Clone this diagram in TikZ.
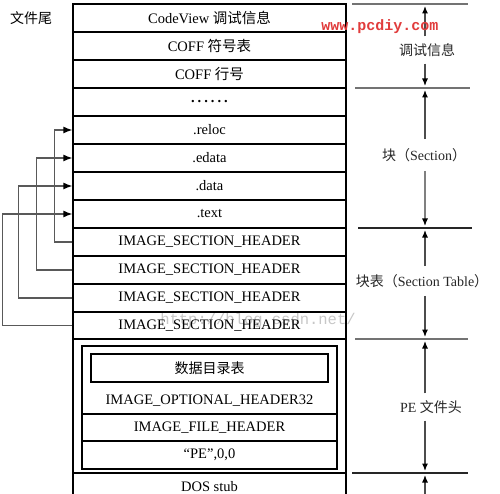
\documentclass[tikz,border=0pt]{standalone}
\usepackage{fontspec}
\setmainfont{Liberation Serif}
\newfontfamily\cjk{Noto Sans CJK SC}
\newfontfamily\wmfont{Liberation Mono}
\usetikzlibrary{arrows.meta}
\definecolor{wmred}{RGB}{225,60,60}
\begin{document}
\begin{tikzpicture}[x=1pt,y=-1pt,
  cell/.style={draw, line width=1.2pt, minimum width=273pt, minimum height=28pt, inner sep=0pt,
    font=\fontsize{14.5}{16}\selectfont},
  icell/.style={draw, line width=1.3pt, minimum width=255pt, inner sep=0pt},
  txt/.style={inner sep=0pt, font=\fontsize{14.5}{16}\selectfont},
  rlab/.style={inner sep=7pt, text=black!85, font=\fontsize{14}{16}\selectfont},
  conn/.style={draw=black!65, line width=1.4pt, -{Latex[length=9pt,width=7pt,color=black]}},
  varrow/.style={draw=black!70, line width=1.2pt, -{Latex[length=7.5pt,width=6pt,color=black]}},
  sepd/.style={draw=black!55, line width=1.1pt},
  seps/.style={draw=black!85, line width=1.2pt}]
\useasboundingbox (0,0) rectangle (500,494);
\clip (0,0) rectangle (500,494);
\fill[white] (0,0) rectangle (500,494);

% main column
\node[cell] (r1) at (209.5,18) {CodeView {\cjk 调试信息}};
\node[cell] (r2) at (209.5,46) {COFF {\cjk 符号表}};
\node[cell] (r3) at (209.5,74) {COFF {\cjk 行号}};
\node[cell] (r4) at (209.5,102) {\textbf{.\hspace{3pt}.\hspace{3pt}.\hspace{3pt}.\hspace{3pt}.\hspace{3pt}.}};
\node[cell] (r5) at (209.5,130) {.reloc};
\node[cell] (r6) at (209.5,158) {.edata};
\node[cell] (r7) at (209.5,186) {.data};
\node[cell] (r8) at (209.5,214) {.text};
\node[cell] (r9) at (209.5,242) {IMAGE\_SECTION\_HEADER};
\node[cell] (r10) at (209.5,270) {IMAGE\_SECTION\_HEADER};
\node[cell] (r11) at (209.5,298) {IMAGE\_SECTION\_HEADER};
\node[cell, minimum height=27pt] (r12) at (209.5,325.5) {IMAGE\_SECTION\_HEADER};
\node[cell, minimum height=134pt] (pe) at (209.5,406) {};
\node[cell] (dos) at (209.5,487) {DOS stub};

% PE header interior
\node[icell, minimum height=68pt] (opt) at (209.5,380) {};
\node[icell, minimum height=27pt, font=\fontsize{14.5}{16}\selectfont] (fh) at (209.5,427.5) {IMAGE\_FILE\_HEADER};
\node[icell, minimum height=28pt, font=\fontsize{14.5}{16}\selectfont] (sig) at (209.5,455) {“PE”,0,0};
\node[draw, line width=1.5pt, minimum width=237pt, minimum height=28pt, inner sep=0pt,
  font=\fontsize{14}{16}\selectfont] (dd) at (209.5,368) {\cjk 数据目录表};
\node[txt] (optt) at (209.5,401) {IMAGE\_OPTIONAL\_HEADER32};

% left label
\node[rlab, text=black] (tail) at (31,18) {\cjk 文件尾};

% section header pointers
\draw[conn] (r9.west) -- ++(-18,0) |- (r5.west);
\draw[conn] (r10.west) -- ++(-36,0) |- (r6.west);
\draw[conn] (r11.west) -- ++(-54,0) |- (r7.west);
\draw[conn] (r12.west) -- ++(-70,0) |- (r8.west);

% right separators
\draw[sepd] (352,4) -- (468,4);
\draw[sepd] (355,88) -- (470,88);
\draw[seps] (358,228) -- (472,228);
\draw[sepd] (355,339) -- (468,339);
\draw[seps] (352,473) -- (468,473);

\coordinate (a0) at (425,6);
\coordinate (a1) at (425,86);
\coordinate (a2) at (425,90);
\coordinate (a3) at (425,226);
\coordinate (a4) at (425,230);
\coordinate (a5) at (425,337);
\coordinate (a6) at (425,341);
\coordinate (a7) at (425,471);
\coordinate (a8) at (425,475);
\coordinate (a9) at (425,494);

\node[rlab] (l1) at (427,50) {\cjk 调试信息};
\node[rlab, inner sep=9pt] (l2) at (424,155) {{\cjk 块（}Section{\cjk ）}};
\node[rlab, inner sep=8pt] (l3) at (422,281) {{\cjk 块表（}Section Table{\cjk ）}};
\node[rlab] (l4) at (431,407) {PE {\cjk 文件头}};

\draw[varrow] (l1.north -| a0) -- (a0);
\draw[varrow] (l1.south -| a1) -- (a1);
\draw[varrow] (l2.north -| a2) -- (a2);
\draw[varrow, draw=black!50] (l2.south -| a3) -- (a3);
\draw[varrow] (l3.north -| a4) -- (a4);
\draw[varrow] (l3.south -| a5) -- (a5);
\draw[varrow] (l4.north -| a6) -- (a6);
\draw[varrow] (l4.south -| a7) -- (a7);
\draw[varrow] (a9) -- (a8);

% watermarks
\node[inner sep=0pt, text=wmred, font=\wmfont\bfseries\fontsize{15}{15}\selectfont] (wm1) at (380,27) {www.pcdiy.com};
\node[inner sep=0pt, text=black, opacity=0.22, font=\wmfont\fontsize{15.5}{16}\selectfont] (wm2) at (258,320) {http://blog.csdn.net/};
\end{tikzpicture}
\end{document}
